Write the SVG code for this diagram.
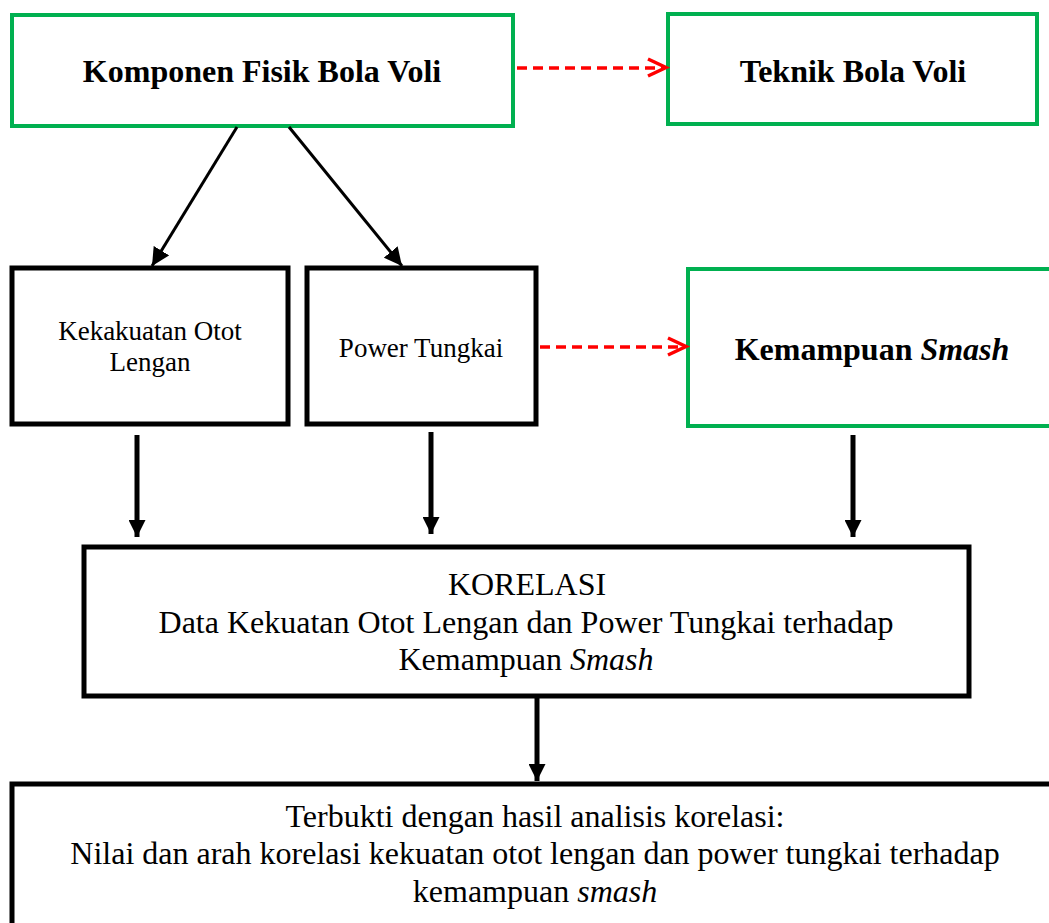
<svg xmlns="http://www.w3.org/2000/svg" width="1049" height="923" viewBox="0 0 1049 923">
<style>
.g{fill:#fff;stroke:#00b050;stroke-width:4}
.k{fill:#fff;stroke:#000;stroke-width:5}
.t{font-family:"Liberation Serif","Times New Roman",serif;fill:#000;text-anchor:middle}
.b{font-weight:bold;font-size:32px}
.s{font-size:27px}
.m{font-size:32px}
.c{stroke:#000;stroke-width:5;fill:none}
.d{stroke:#000;stroke-width:3;fill:none}
.r{stroke:#ff0000;stroke-width:3.5;fill:none;stroke-dasharray:10 6}
.rh{stroke:#ff0000;stroke-width:3.5;fill:none}
</style>
<defs>
<marker id="ah" viewBox="0 0 10 10" refX="10" refY="5" markerWidth="6" markerHeight="6" markerUnits="strokeWidth" orient="auto"><path d="M0,0 L10,5 L0,10 z" fill="#000"/></marker>
<marker id="ah2" viewBox="0 0 10 10" refX="10" refY="5" markerWidth="3.4" markerHeight="3.4" markerUnits="strokeWidth" orient="auto"><path d="M0,0 L10,5 L0,10 z" fill="#000"/></marker>
</defs>
<g id="n1"><rect class="g" x="12" y="15" width="501" height="111"/><text class="t b" x="262" y="82">Komponen Fisik Bola Voli</text></g>
<g id="n2"><rect class="g" x="668" y="14" width="369" height="110"/><text class="t b" x="853" y="82">Teknik Bola Voli</text></g>
<g id="n3"><rect class="k" x="12" y="268" width="276" height="156"/><text class="t s" x="150" y="340">Kekakuatan Otot</text><text class="t s" x="150" y="371">Lengan</text></g>
<g id="n4"><rect class="k" x="307" y="268" width="229" height="156"/><text class="t s" x="421" y="357">Power Tungkai</text></g>
<g id="n5"><rect class="g" x="688" y="269" width="370" height="157"/><text class="t b" x="872" y="360">Kemampuan <tspan font-style="italic">Smash</tspan></text></g>
<g id="n6"><rect class="k" x="84" y="547" width="885" height="149"/><text class="t m" x="527" y="595">KORELASI</text><text class="t m" x="526" y="633">Data Kekuatan Otot Lengan dan Power Tungkai terhadap</text><text class="t m" x="526" y="670">Kemampuan <tspan font-style="italic">Smash</tspan></text></g>
<g id="n7"><rect class="k" x="12" y="784" width="1050" height="150"/><text class="t m" x="535" y="827">Terbukti dengan hasil analisis korelasi:</text><text class="t m" x="535" y="864">Nilai dan arah korelasi kekuatan otot lengan dan power tungkai terhadap</text><text class="t m" x="535" y="902">kemampuan <tspan font-style="italic">smash</tspan></text></g>
<g id="connectors">
<line class="r" x1="517" y1="68" x2="664" y2="68"/>
<polyline class="rh" points="648,59 666,67.5 648,76"/>
<line class="r" x1="540" y1="347" x2="683" y2="347"/>
<polyline class="rh" points="668,338 686,346.5 668,355"/>
<line class="d" x1="237" y1="127" x2="152" y2="266" marker-end="url(#ah)"/>
<line class="d" x1="289" y1="127" x2="402" y2="266" marker-end="url(#ah)"/>
<line class="c" x1="137" y1="435" x2="137" y2="537" marker-end="url(#ah2)"/>
<line class="c" x1="431" y1="432" x2="431" y2="534" marker-end="url(#ah2)"/>
<line class="c" x1="853" y1="435" x2="853" y2="537" marker-end="url(#ah2)"/>
<line class="c" x1="537" y1="697" x2="537" y2="781" marker-end="url(#ah2)"/>
</g>
</svg>
